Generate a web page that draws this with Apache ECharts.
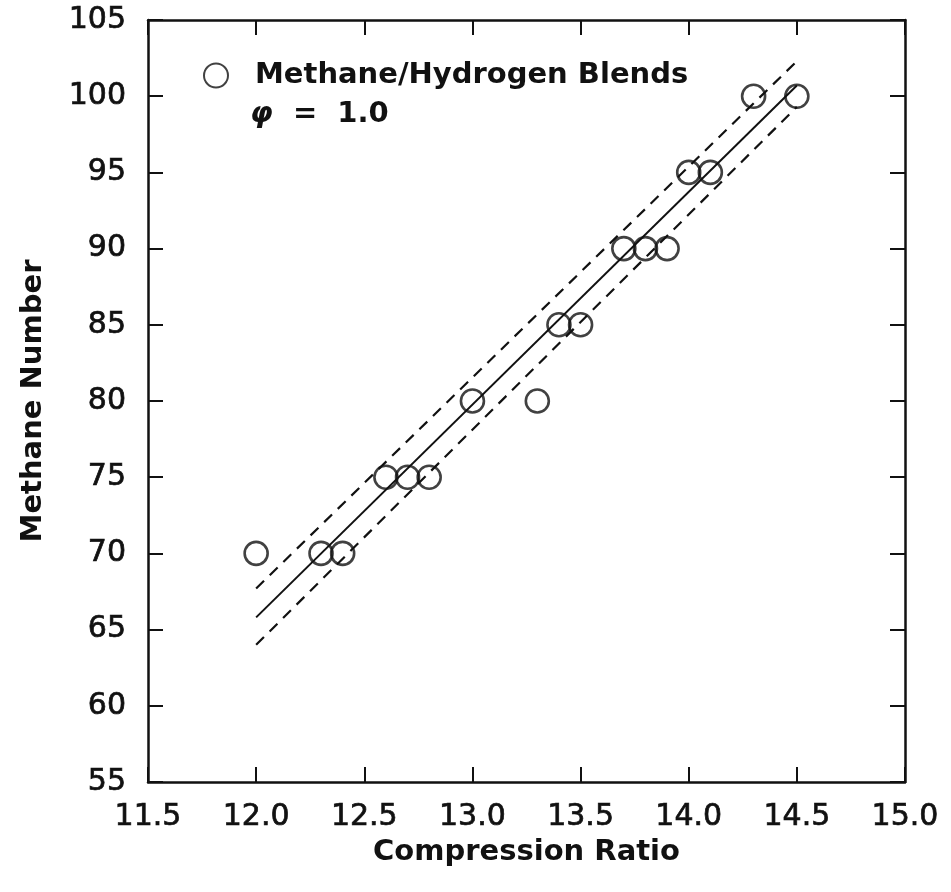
<!DOCTYPE html>
<html>
<head>
<meta charset="utf-8">
<script src="https://cdn.jsdelivr.net/npm/echarts@6/dist/echarts.min.js"></script>
<style>html,body{margin:0;padding:0;background:#fff;}#c{width:951px;height:892px;}</style>
</head>
<body>
<div id="c"></div>
<script>
// Data
const compressionRatio = [12.0, 12.3, 12.4, 12.6, 12.7, 12.8, 13.0, 13.3, 13.4, 13.5, 13.7, 13.8, 13.9, 14.0, 14.1, 14.3, 14.5];
const methaneNumber   = [70, 70, 70, 75, 75, 75, 80, 80, 85, 85, 90, 90, 90, 95, 95, 100, 100];
const fitX      = [12.0, 14.5];
const fitY      = [65.8, 100.7];
const upperY    = [67.7, 102.3];
const lowerY    = [64.0, 99.3];
const seriesName = 'Methane/Hydrogen Blends';
const conditionText = '=  1.0';

const pts = compressionRatio.map((x, i) => [x, methaneNumber[i]]);
const fit = fitX.map((x, i) => [x, fitY[i]]);
const up = fitX.map((x, i) => [x, upperY[i]]);
const lo = fitX.map((x, i) => [x, lowerY[i]]);

const FONT = 'DejaVu Sans';
const txt = {fontFamily: FONT, fontSize: 30, color: '#111', textBorderColor: '#111', textBorderWidth: 0.7};
const bold = {fontFamily: FONT, fontSize: 29, fontWeight: 'bold', color: '#111'};

const chart = echarts.init(document.getElementById('c'), null, {renderer: 'canvas'});
const axisLine = {show: true, onZero: false, lineStyle: {color: '#111', width: 2.5}};
const tick = {show: true, inside: true, length: 15, lineStyle: {color: '#111', width: 2}};
chart.setOption({
  animation: false,
  backgroundColor: '#fff',
  grid: {left: 148, right: 46, top: 20, bottom: 110},
  legend: {
    left: 198, top: 56,
    data: [{name: seriesName, icon: 'circle'}],
    itemWidth: 24, itemHeight: 24,
    textStyle: Object.assign({}, bold, {padding: [0, 0, 0, 22]})
  },
  graphic: [{
    type: 'text', left: 250, top: 100,
    style: {
      text: '{p|φ}  ' + conditionText,
      font: 'bold 29px "DejaVu Sans"', fill: '#111',
      rich: {p: {fontFamily: FONT, fontStyle: 'italic', fontWeight: 'bold', fontSize: 29, fill: '#111'}}
    }
  }],
  xAxis: [{
    type: 'value', min: 11.5, max: 15.0, interval: 0.5,
    name: 'Compression Ratio', nameLocation: 'middle', nameGap: 56,
    nameTextStyle: bold,
    axisLine, axisTick: tick, splitLine: {show: false},
    axisLabel: Object.assign({}, txt, {margin: 20, formatter: v => v.toFixed(1)})
  }, {
    type: 'value', position: 'top', min: 11.5, max: 15.0, interval: 0.5,
    axisLine, axisTick: tick, splitLine: {show: false}, axisLabel: {show: false}
  }],
  yAxis: [{
    type: 'value', min: 55, max: 105, interval: 5,
    name: 'Methane Number', nameLocation: 'middle', nameGap: 100,
    nameTextStyle: bold,
    axisLine, axisTick: tick, splitLine: {show: false},
    axisLabel: Object.assign({}, txt, {margin: 22})
  }, {
    type: 'value', position: 'right', min: 55, max: 105, interval: 5,
    axisLine, axisTick: tick, splitLine: {show: false}, axisLabel: {show: false}
  }],
  series: [
    {type: 'line', data: fit, showSymbol: false, symbol: 'none', lineStyle: {color: '#111', width: 2}, silent: true, z: 1},
    {type: 'line', data: up, showSymbol: false, symbol: 'none', lineStyle: {color: '#111', width: 2.2, type: [11, 8]}, silent: true, z: 1},
    {type: 'line', data: lo, showSymbol: false, symbol: 'none', lineStyle: {color: '#111', width: 2.2, type: [11, 8]}, silent: true, z: 1},
    {
      name: seriesName, type: 'scatter', data: pts, symbol: 'circle', symbolSize: 23,
      itemStyle: {color: 'rgba(0,0,0,0)', borderColor: '#111', borderWidth: 2.6}, z: 3
    }
  ]
});
</script>
</body>
</html>
